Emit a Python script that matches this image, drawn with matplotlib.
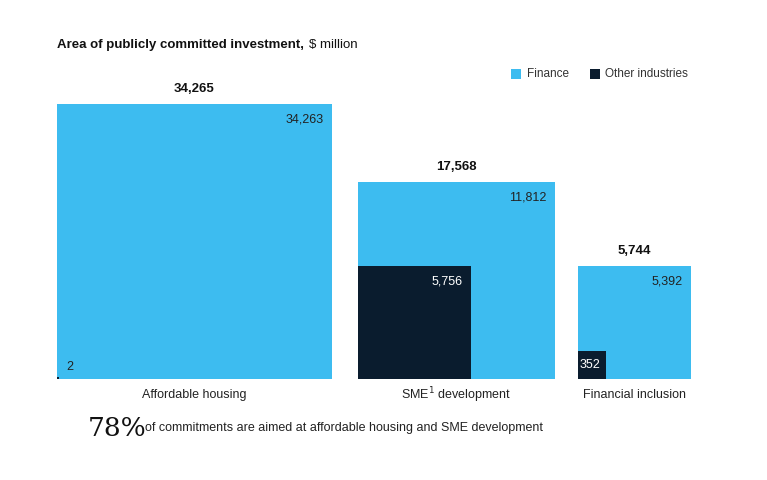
import numpy as np
import matplotlib.pyplot as plt
from matplotlib.patches import Rectangle

plt.rcParams['font.family'] = ['Liberation Sans', 'DejaVu Sans']

categories = ['Affordable housing', 'SME$^1$ development', 'Financial inclusion']
totals = [34265, 17568, 5744]
finance = [34263, 11812, 5392]
other = [2, 5756, 352]

c_fin = '#3dbcf0'
c_oth = '#0a1c2e'

fig = plt.figure(figsize=(7.67, 4.8), dpi=100)
ax = fig.add_axes([0, 0, 1, 1])
ax.set_xlim(0, 767)
ax.set_ylim(480, 0)
ax.axis('off')

base = 379
k = 275 / np.sqrt(max(totals))
gaps = [0, 26, 23]
x = 57
for i, cat in enumerate(categories):
    x += gaps[i]
    s = np.sqrt(totals[i]) * k
    so = np.sqrt(other[i]) * k
    ax.add_patch(Rectangle((x, base - s), s, s, color=c_fin, lw=0))
    ax.add_patch(Rectangle((x, base - so), so, so, color=c_oth, lw=0))
    ax.text(x + s / 2, base - s - 9, f'{totals[i]:,}', ha='center', va='bottom',
            fontsize=9.5, fontweight='bold', color='#111')
    ax.text(x + s - 8, base - s + 15, f'{finance[i]:,}', ha='right', va='center',
            fontsize=9, color='#222')
    if so > 60:
        ax.text(x + so - 8, base - so + 15, f'{other[i]:,}', ha='right', va='center',
                fontsize=9, color='white')
    elif so > 15:
        ax.text(x + 2, base - so / 2, f'{other[i]:,}', ha='left', va='center',
                fontsize=9, color='white')
    else:
        ax.text(x + so + 7, base - 12, f'{other[i]:,}', ha='left', va='center',
                fontsize=9, color='#222')
    ax.text(x + s / 2, base + 16, cat, ha='center', va='center', fontsize=9, color='#222')
    x += s

t = ax.text(57, 45, 'Area of publicly committed investment,', fontsize=9.5, fontweight='bold',
            va='center', color='#111')
ax.annotate(r'\$ million', xy=(1, 0.5), xycoords=t, xytext=(4, 0), textcoords='offset points',
            fontsize=9.5, va='center', color='#111')

ax.add_patch(Rectangle((511, 69), 10, 10, color=c_fin, lw=0))
ax.text(527, 74, 'Finance', fontsize=8.5, va='center', color='#333')
ax.add_patch(Rectangle((590, 69), 10, 10, color=c_oth, lw=0))
ax.text(605, 74, 'Other industries', fontsize=8.5, va='center', color='#333')

ax.text(88, 428, '78%', fontsize=19, family='DejaVu Serif', va='center', color='#111')
ax.text(145, 428, 'of commitments are aimed at affordable housing and SME development',
        fontsize=9, va='center', color='#222')

fig.savefig('out.png', dpi=100)
